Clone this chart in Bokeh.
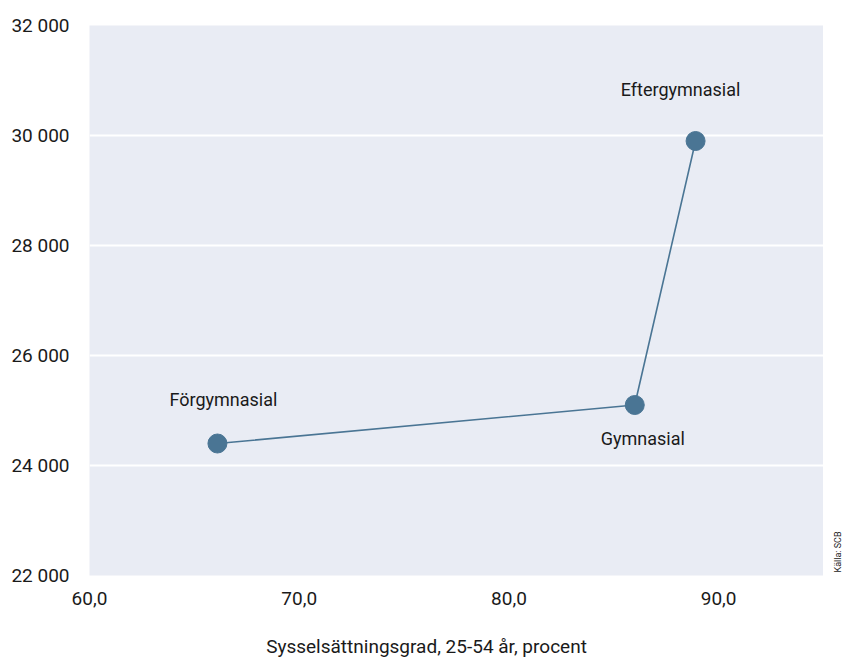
from math import pi

from bokeh.core.properties import value
from bokeh.embed import file_html
from bokeh.layouts import column, row
from bokeh.models import (ColumnDataSource, FixedTicker, CustomJSTickFormatter,
                          Range1d)
from bokeh.plotting import figure
from bokeh.resources import INLINE

# Employment rate (25-54 years, percent) and income by level of education
levels = ["Förgymnasial", "Gymnasial", "Eftergymnasial"]
employment_rate = [66.1, 86.0, 88.9]
income = [24400, 25100, 29900]

x_ticks = [60, 70, 80, 90]
y_ticks = [22000, 24000, 26000, 28000, 30000, 32000]

x_title = "Sysselsättningsgrad, 25-54 år, procent"
source_note = "Källa: SCB"

FONT = "Roboto"
INK = "#1a1a1a"
BLUE = "#4a7594"
TOP, BOTTOM = 25, 55
MAIN_H, TITLE_H = 630, 30


def bare(fig):
    fig.axis.visible = False
    fig.grid.visible = False
    fig.outline_line_color = None
    fig.background_fill_color = "white"
    fig.border_fill_color = "white"


source = ColumnDataSource(dict(
    x=employment_rate,
    y=income,
    name=levels,
    dx=[6, 8, -15],
    dy=[-44, 33, -52],
))

p = figure(
    width=823, height=MAIN_H,
    x_range=Range1d(60, 95), y_range=Range1d(22000, 32000),
    output_backend="svg", toolbar_location=None,
    min_border_left=89, min_border_right=0,
    min_border_top=TOP, min_border_bottom=BOTTOM,
)
p.outline_line_color = None
p.background_fill_color = "#e9ecf4"
p.border_fill_color = "white"

p.xgrid.grid_line_color = None
p.ygrid.grid_line_color = "white"
p.ygrid.grid_line_width = 2

for ax in (p.xaxis, p.yaxis):
    ax.axis_line_color = None
    ax.major_tick_line_color = None
    ax.minor_tick_line_color = None
    ax.major_tick_out = 0
    ax.major_tick_in = 0
    ax.minor_tick_out = 0
    ax.major_label_text_font = FONT
    ax.major_label_text_font_size = "19px"
    ax.major_label_text_color = INK

p.xaxis.ticker = FixedTicker(ticks=x_ticks)
p.yaxis.ticker = FixedTicker(ticks=y_ticks)
p.xaxis.formatter = CustomJSTickFormatter(code="return tick.toFixed(1).replace('.', ',');")
p.yaxis.formatter = CustomJSTickFormatter(
    code="return Math.round(tick).toString().replace(/\\B(?=(\\d{3})+(?!\\d))/g, ' ');")
p.xaxis.major_label_standoff = 16
p.yaxis.major_label_standoff = 20

p.line("x", "y", source=source, line_color=BLUE, line_width=1.6)
p.scatter("x", "y", source=source, size=19, fill_color=BLUE, line_color=BLUE)
p.text("x", "y", text="name", source=source, x_offset="dx", y_offset="dy",
       text_align="center", text_baseline="middle",
       text_font=value(FONT), text_font_size="18px", text_color=INK)

# narrow strip on the right carrying the rotated source note
side = figure(
    width=20, height=MAIN_H,
    x_range=Range1d(0, 20), y_range=p.y_range,
    output_backend="svg", toolbar_location=None,
    min_border_left=0, min_border_right=0,
    min_border_top=TOP, min_border_bottom=BOTTOM,
)
bare(side)
side.text(x=[14], y=[p.y_range.start], text=[source_note], angle=pi / 2,
          y_offset=-3, text_align="left", text_baseline="middle",
          text_font=value(FONT), text_font_size="9px", text_color=INK)

# strip along the bottom with the x-axis title, centred on the page
strip = figure(
    width=843, height=TITLE_H,
    x_range=Range1d(0, 843), y_range=Range1d(TITLE_H, 0),
    output_backend="svg", toolbar_location=None,
    min_border=0,
)
bare(strip)
strip.text(x=[426], y=[16], text=[x_title],
           text_align="center", text_baseline="middle",
           text_font=value(FONT), text_font_size="19px", text_color=INK)

layout = column(row(p, side, spacing=0), strip, spacing=0)
open("out.html", "w").write(file_html(layout, INLINE))
